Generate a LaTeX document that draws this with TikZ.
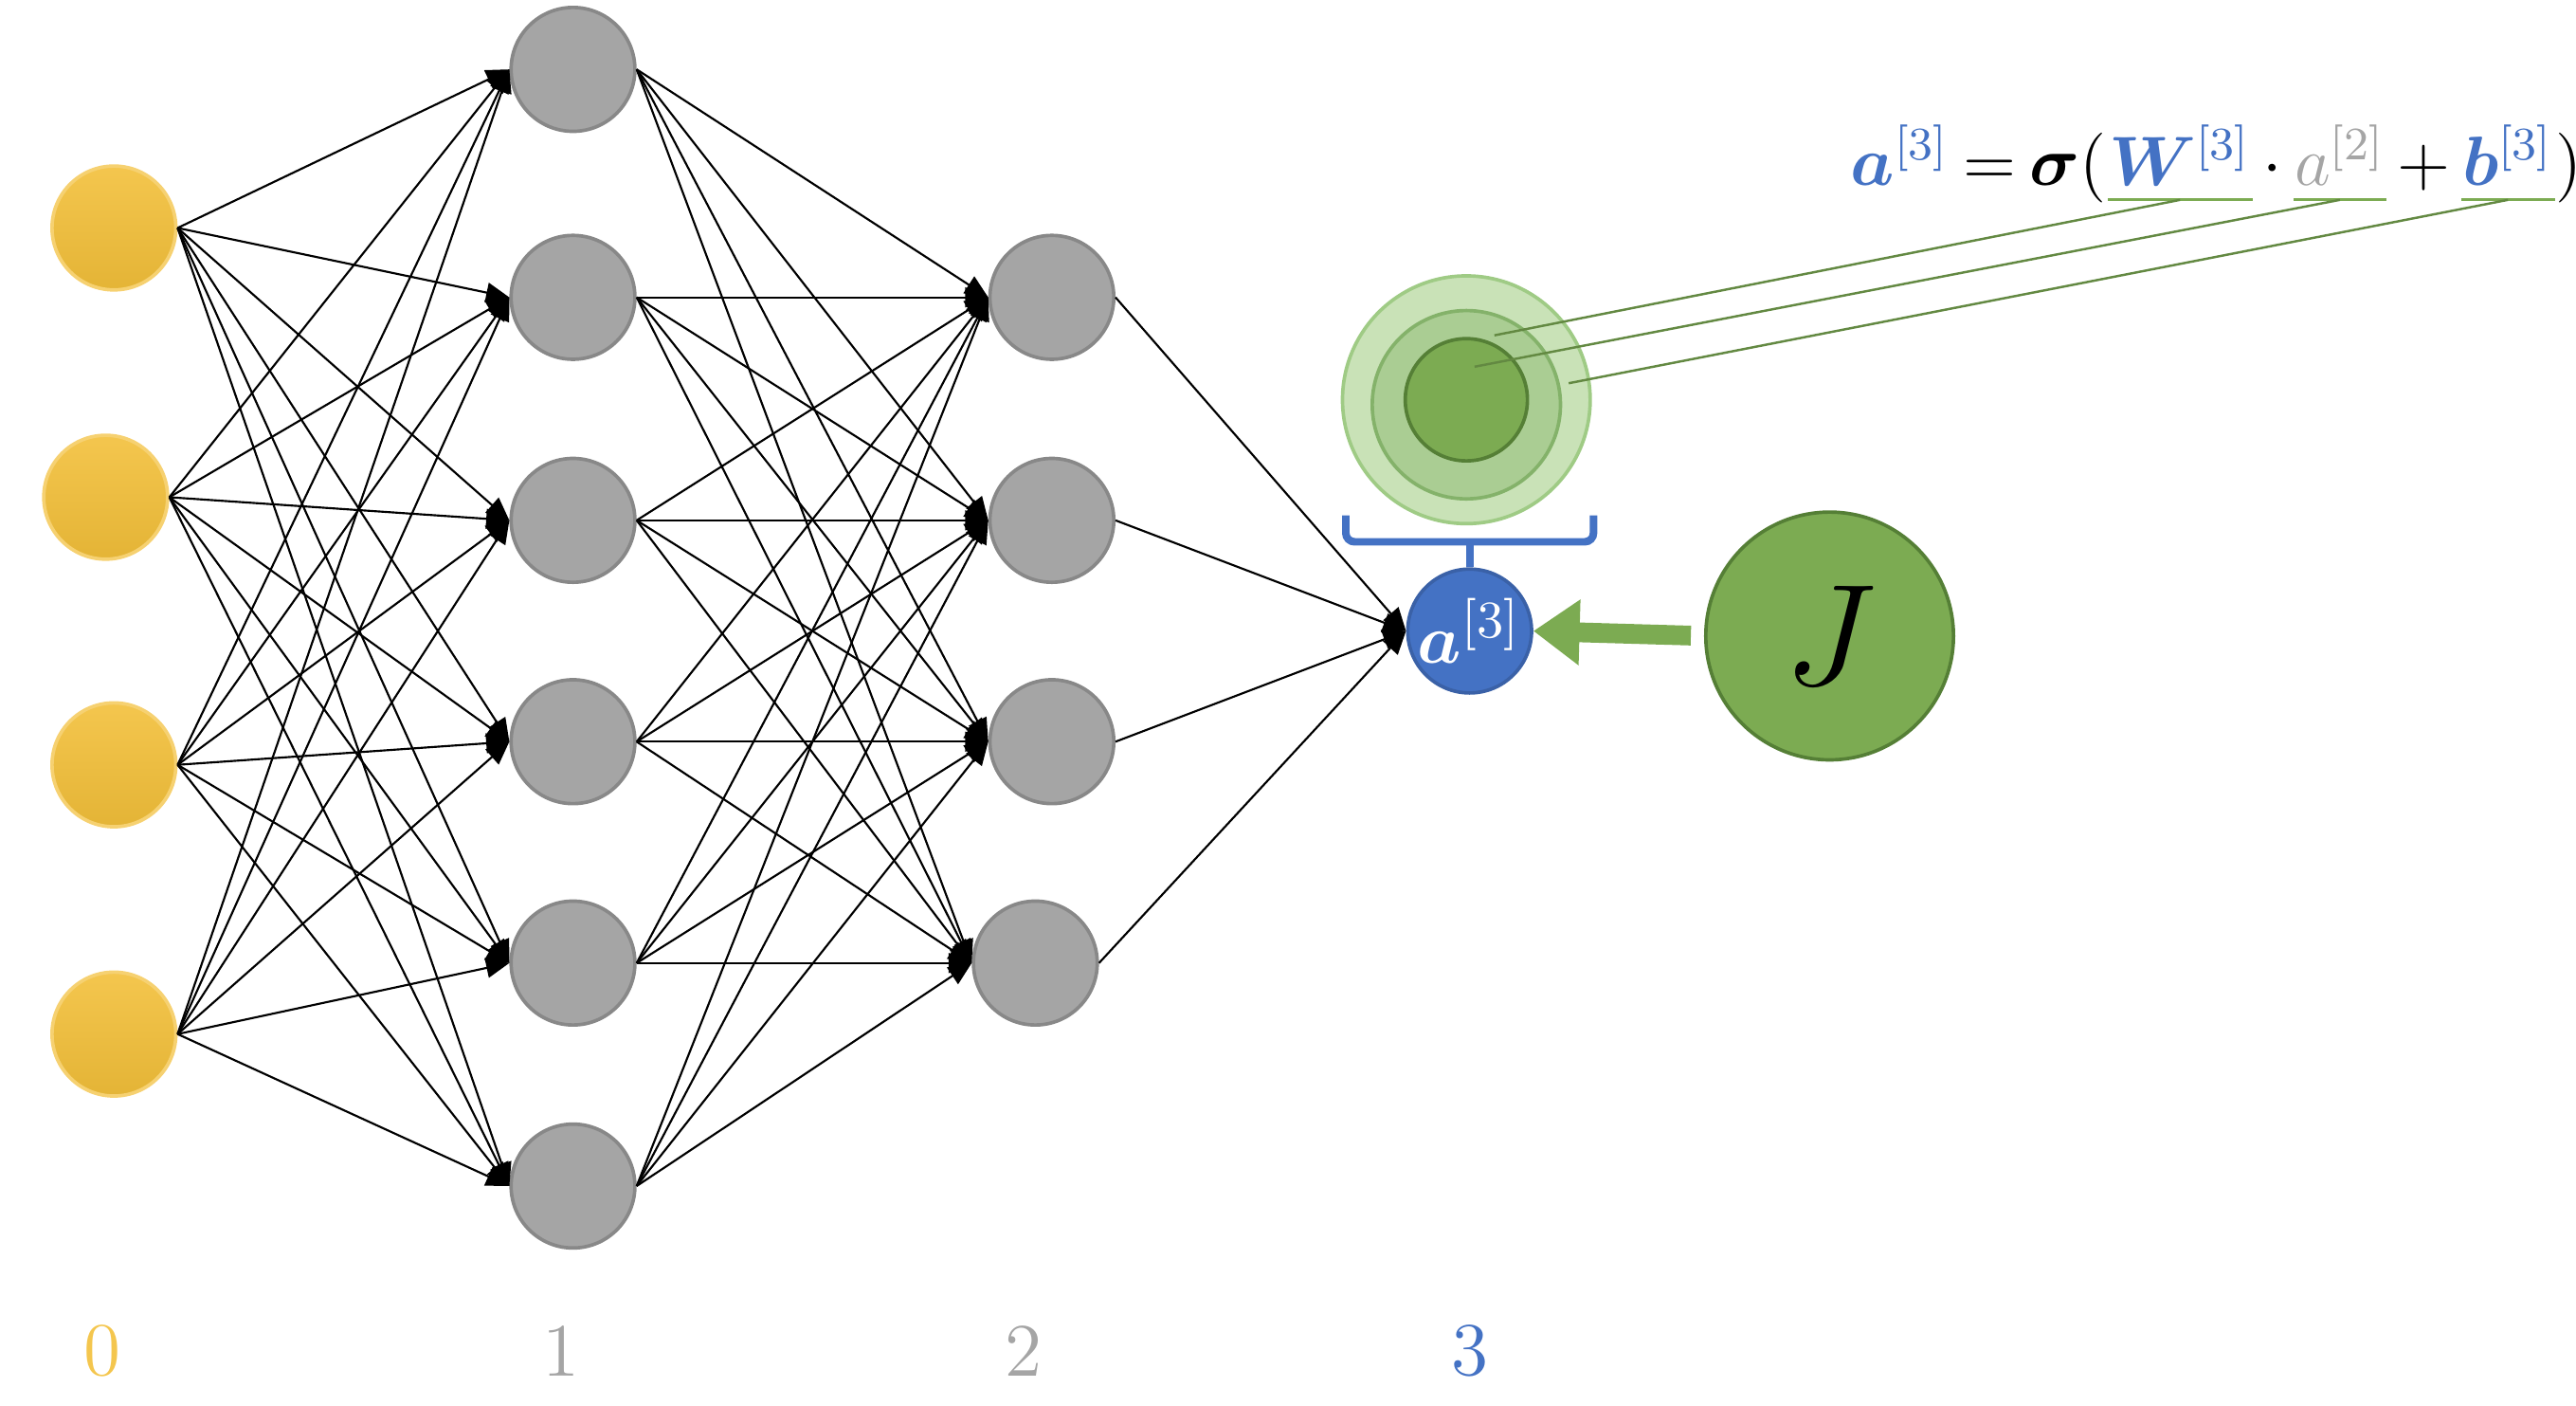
\documentclass[tikz,border=0pt]{standalone}
\usepackage{amsmath}
\usepackage{amssymb}
\usepackage{bm}
\usepackage{tikz}
\usetikzlibrary{calc,arrows.meta,positioning}

\definecolor{inyellow}{HTML}{F4C64E}
\definecolor{inyellowdark}{HTML}{E4B436}
\definecolor{hidgray}{HTML}{A5A5A5}
\definecolor{hidgrayline}{HTML}{888888}
\definecolor{outblue}{HTML}{4472C4}
\definecolor{costgreen}{HTML}{7CAB52}
\definecolor{costgreenline}{HTML}{557F36}
\definecolor{ringlight}{HTML}{C9E2B7}
\definecolor{ringlightline}{HTML}{9FCB85}
\definecolor{ringmid}{HTML}{AACD93}
\definecolor{ringmidline}{HTML}{84B26A}
\newcommand\tightmath{\thickmuskip=3.5mu\relax\medmuskip=2.5mu\relax}

\begin{document}
\begin{tikzpicture}[x=0.1mm,y=-0.1mm,
    neuron/.style={circle,minimum size=7.5mm,inner sep=0pt,line width=0.6pt},
    input/.style={neuron,top color=inyellow,bottom color=inyellowdark,draw=inyellow!80!white},
    hidden/.style={neuron,fill=hidgray,draw=hidgrayline},
    wire/.style={line width=0.35pt,-{Triangle[length=1.4mm,width=1.2mm]}},
    formula/.style={anchor=base west,inner sep=0pt,font=\fontsize{11.6}{14}\selectfont\tightmath},
    layerlabel/.style={font=\fontsize{13}{15}\selectfont}]
\useasboundingbox (0,0) rectangle (1560,850.6);

% layer 0 and 1 and 2
\foreach \i/\x/\y in {1/69/138,2/64/301,3/69/463,4/69/626}
  \node[input] (x\i) at (\x,\y) {};
\foreach \i/\y in {1/42,2/180,3/315,4/449,5/583,6/718}
  \node[hidden] (h\i) at (347,\y) {};
\foreach \i/\x/\y in {1/637/180,2/637/315,3/637/449,4/627/583}
  \node[hidden] (g\i) at (\x,\y) {};

% output and cost
\node[neuron,fill=outblue,draw=outblue!85!black,text=white,font=\fontsize{12.8}{15}\selectfont]
  (a3) at (890,382) {$\boldsymbol{a}^{[3]}$};
\node[circle,minimum size=15mm,inner sep=0pt,fill=costgreen,draw=costgreenline,line width=0.6pt,
  font=\fontsize{26}{30}\selectfont] (J) at (1108,385) {$J$};

\foreach \i in {1,...,4}
  \foreach \j in {1,...,6}
    \draw[wire] (x\i.east) -- (h\j.west);
\foreach \i in {1,...,6}
  \foreach \j in {1,...,4}
    \draw[wire] (h\i.east) -- (g\j.west);
\foreach \j in {1,...,4}
  \draw[wire] (g\j.east) -- (a3.west);

\draw[costgreen,line width=3.4pt,-{Triangle[length=2.8mm,width=3.8mm]},shorten <=0.8mm] (J.west) -- (a3.east);

% parameters of the unit
\node[circle,minimum size=15mm,inner sep=0pt,fill=ringlight,draw=ringlightline,line width=0.6pt] (r1) at (888,242) {};
\node[circle,minimum size=11.4mm,inner sep=0pt,fill=ringmid,draw=ringmidline,line width=0.6pt] (r2) at (888,245) {};
\node[circle,minimum size=7.4mm,inner sep=0pt,fill=costgreen,draw=costgreenline,line width=0.6pt] (r3) at (888,242) {};

\draw[outblue,line width=1.3pt,rounded corners=1.5pt] (815,312) -- (815,328) -- (965,328) -- (965,312);
\draw[outblue,line width=1.3pt] ($(a3.north)+(0,-17)$) -- (a3.north);

% formula
\node[formula] (f1) at (1120,112) {${\color{outblue}\boldsymbol{a}^{[3]}} = \boldsymbol{\sigma}($};
\node[formula,text=outblue] (fW) at (f1.base east) {$\boldsymbol{W}^{[3]}$};
\node[formula] (fdot) at (fW.base east) {${}\cdot{}$};
\node[formula,text=hidgray] (fa) at (fdot.base east) {$a^{[2]}$};
\node[formula] (fplus) at (fa.base east) {${}+{}$};
\node[formula,text=outblue] (fb) at (fplus.base east) {$\boldsymbol{b}^{[3]}$};
\node[formula] (fend) at (fb.base east) {$)$};

\foreach \p in {fW,fa,fb}
  \draw[costgreen,line width=0.5pt] ([yshift=-0.9mm]\p.base west) -- ([yshift=-0.9mm]\p.base east);
\coordinate (uW) at ([yshift=-0.9mm]fW.base);
\coordinate (ua) at ([yshift=-0.9mm]fa.base);
\coordinate (ub) at ([yshift=-0.9mm]fb.base);
\coordinate (pW) at ($(r2)+(17,-42)$);
\coordinate (pa) at ($(r3)+(5,-20)$);
\coordinate (pb) at ($(r1)+(62,-10)$);
\draw[costgreen!80!black,line width=0.4pt] (pW) -- (uW);
\draw[costgreen!80!black,line width=0.4pt] (pa) -- (ua);
\draw[costgreen!80!black,line width=0.4pt] (pb) -- (ub);

% layer numbers
\node[layerlabel,text=inyellow] (lab0) at (62,818) {0};
\node[layerlabel,text=hidgray] (lab1) at (340,818) {1};
\node[layerlabel,text=hidgray] (lab2) at (620,818) {2};
\node[layerlabel,text=outblue] (lab3) at (890,818) {3};
\end{tikzpicture}
\end{document}
